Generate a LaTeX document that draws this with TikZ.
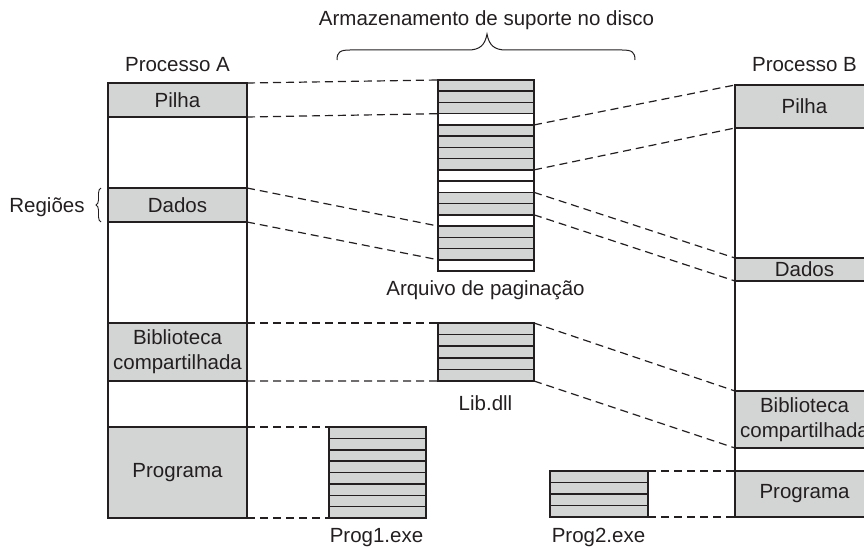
\documentclass[tikz,border=0pt]{standalone}
\usepackage{fontspec}
\setmainfont{Liberation Sans}
\usetikzlibrary{decorations.pathreplacing}
\definecolor{grayC}{RGB}{211,213,212}
\definecolor{lineC}{RGB}{35,31,32}
\begin{document}
\begin{tikzpicture}[x=1pt,y=-1pt,
  every node/.style={font=\fontsize{20.5}{25}\selectfont, text=lineC, outer sep=0pt},
  region/.style={draw=lineC, line width=1.9pt, fill=grayC, minimum width=139pt, anchor=north west, inner sep=0pt, align=center},
  procbox/.style={draw=lineC, line width=1.9pt, minimum width=139pt, anchor=north west, inner sep=0pt},
  strip/.style={draw=lineC, line width=1.5pt, anchor=north west, inner sep=0pt},
  frame/.style={draw=lineC, line width=2.1pt, anchor=north west, inner sep=0pt},
  lbl/.style={anchor=base, inner sep=0pt},
  conn/.style={draw=lineC, line width=1.2pt, dash pattern=on 8pt off 5pt}]
\useasboundingbox (0,0) rectangle (864,548);
\clip (0,0) rectangle (864,548);

% Process A
\node[procbox, minimum height=435pt] (procA) at (108,83) {};
\node[region, minimum height=34pt] (pilhaA) at (108,83) {Pilha};
\node[region, minimum height=34pt] (dadosA) at (108,188) {Dados};
\node[region, minimum height=58pt] (libA) at (108,323) {Biblioteca\\compartilhada};
\node[region, minimum height=91pt] (progA) at (108,427) {Programa};
\node[lbl] (labA) at (177.5,72) {Processo A};
\node[lbl] (labReg) at (47,212) {Regiões};
\draw[lineC, line width=0.9pt, decorate, decoration={brace, amplitude=5pt}]
  ([xshift=-7pt]dadosA.south west) -- ([xshift=-7pt]dadosA.north west);

% Process B
\node[procbox, minimum height=432pt] (procB) at (735,85) {};
\node[region, minimum height=43pt] (pilhaB) at (735,85) {Pilha};
\node[region, minimum height=23pt] (dadosB) at (735,258) {Dados};
\node[region, minimum height=57pt] (libB) at (735,391) {Biblioteca\\compartilhada};
\node[region, minimum height=46pt] (progB) at (735,471) {Programa};
\node[lbl] (labB) at (804.5,72) {Processo B};

% Paging file
\foreach \i/\f in {1/grayC,2/grayC,3/grayC,4/white,5/grayC,6/grayC,7/grayC,8/grayC,9/white,10/white,11/grayC,12/grayC,13/white,14/grayC,15/grayC,16/grayC,17/white}
  \node[strip, fill=\f, minimum width=96pt, minimum height=11.235pt] (pf\i) at (438,{80+(\i-1)*11.235}) {};
\node[frame, minimum width=96pt, minimum height=191pt] (pagefile) at (438,80) {};
\node[lbl] (labPF) at (485.5,295) {Arquivo de paginação};

% Lib.dll
\foreach \i in {1,...,5}
  \node[strip, fill=grayC, minimum width=96pt, minimum height=11.6pt] (lib\i) at (438,{323+(\i-1)*11.6}) {};
\node[frame, minimum width=96pt, minimum height=58pt] (libfile) at (438,323) {};
\node[lbl] (labLib) at (485.5,410) {Lib.dll};

% Prog1.exe
\foreach \i in {1,...,8}
  \node[strip, fill=grayC, minimum width=97pt, minimum height=11.375pt] (pa\i) at (329,{427+(\i-1)*11.375}) {};
\node[frame, minimum width=97pt, minimum height=91pt] (prog1file) at (329,427) {};
\node[lbl] (labP1) at (376.5,542) {Prog1.exe};

% Prog2.exe
\foreach \i in {1,...,4}
  \node[strip, fill=grayC, minimum width=98pt, minimum height=11.5pt] (pb\i) at (550,{471+(\i-1)*11.5}) {};
\node[frame, minimum width=98pt, minimum height=46pt] (prog2file) at (550,471) {};
\node[lbl] (labP2) at (598.5,542) {Prog2.exe};

% Top label and brace
\node[lbl] (labTop) at (486.5,26) {Armazenamento de suporte no disco};
\draw[lineC, line width=1pt]
  (337,60) .. controls (337,52) and (340,50) .. (350,50) -- (468,50)
  .. controls (480,50) and (485,45) .. (487,34)
  .. controls (489,45) and (494,50) .. (506,50) -- (622,50)
  .. controls (632,50) and (635,52) .. (635,60);

% Connectors
\draw[conn] (pilhaA.north east) -- (pf1.north west);
\draw[conn] (pilhaA.south east) -- (pf3.south west);
\draw[conn] (dadosA.north east) -- (pf14.north west);
\draw[conn] (dadosA.south east) -- (pf16.south west);
\draw[conn] (pf5.north east) -- (pilhaB.north west);
\draw[conn] (pf8.south east) -- (pilhaB.south west);
\draw[conn] (pf11.north east) -- (dadosB.north west);
\draw[conn] (pf12.south east) -- (dadosB.south west);
\draw[conn] (libA.north east) -- (lib1.north west);
\draw[conn] (libA.south east) -- (lib5.south west);
\draw[conn] (lib1.north east) -- (libB.north west);
\draw[conn] (lib5.south east) -- (libB.south west);
\draw[conn] (progA.north east) -- (pa1.north west);
\draw[conn] (progA.south east) -- (pa8.south west);
\draw[conn] (pb1.north east) -- (progB.north west);
\draw[conn] (pb4.south east) -- (progB.south west);
\end{tikzpicture}
\end{document}
